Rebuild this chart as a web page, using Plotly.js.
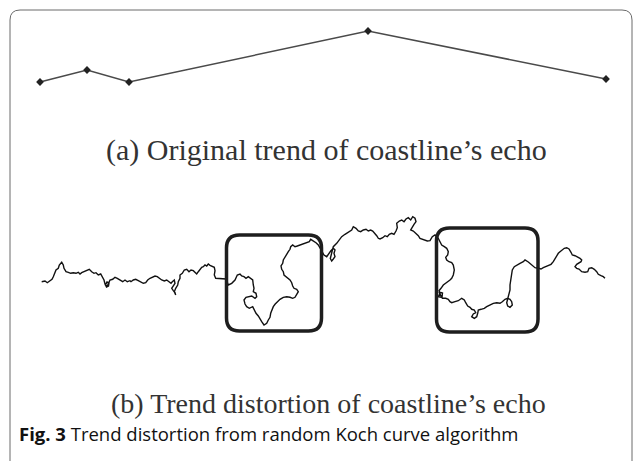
<!DOCTYPE html>
<html>
<head>
<meta charset="utf-8">
<script src="https://cdn.plot.ly/plotly-3.0.1.min.js"></script>
<style>
html,body{margin:0;padding:0;background:#fff;}
#chart{width:633px;height:461px;}
</style>
</head>
<body>
<div id="chart"></div>
<script>
// (a) Original trend of the coastline echo: five vertices
const trendX = [40, 87, 129, 368, 606];
const trendY = [82, 70, 82, 31, 79];

// (b) Distorted trend (random Koch curve)
const kochX = [
41.7,45,47.3,50,52,53.3,55,56,58.3,59.3,61.7,63.3,64,66,68.3,70.7,73.3,76,78.3,80,81.7,84,86.7,89.3,91.7,94,96,98.3,100.7,102.7,104,105,106.5,108.5,109,107,105.5,107.3,108.7,110,112.7,115,117.3,120,122.7,125,127.3,130,
131,133.3,135.7,138.3,140.7,143.3,145.7,147.7,150,152.3,155,157.3,159.3,161.7,164.3,166.7,169,171,172.3,174.3,175,173.3,171.7,173.3,175,175.7,174.3,175.7,177.7,178.3,180,180,182.3,184.3,186.7,189,191,193.3,195,196.7,198.3,200,201.7,203.3,205,206.7,208.3,210,212.3,214.3,215,214.3,215.7,218.3,221,223.3,226,
228.3,231.7,235,237.3,240,241.7,244,246,248.3,250.7,252.7,253.3,254,253.3,256,256.7,255,251.7,248.3,246,244,245,246.7,249.3,252.7,254,256,258.3,260,261.7,264,266.7,268.3,270,270.7,271.7,273.3,275,277.3,280,283.3,286.7,290,292.7,295,296.7,298.3,296.7,294,292.7,291.7,290,288.3,286,284,283.3,281.7,281,282.7,283.3,285,286.7,288.3,290,290.7,292.7,295,297.3,300,302.7,305,307.3,309.3,310.7,313.3,316,318.3,320,321.7,324,326.7,
328.3,330.7,333.3,335,334,335,333.3,331.7,330.3,332,333.3,336.7,339.3,341.7,345,348.3,351.7,353.3,356,358.3,360.7,363.3,366,368.3,370.7,372.7,375,376.7,378.3,380,382.7,385,387.3,389.3,391.7,394,396,397.3,396.7,399.3,401.7,404,406,408.3,410.7,412.7,415,416,414,411.7,410.7,413.3,416,418.3,420,422.7,425,427.3,
430,432.3,435,438.3,440,441.7,444.3,446.7,448.3,447.7,445.7,446.7,449,451.7,453.3,454.3,453.3,451.7,450,447.7,445.7,443.3,441,439,440,438.3,442,442.5,439,442.3,445.7,448.3,450,451.7,455,458.3,461.7,464.3,465.7,467.7,470,471.7,474.3,475.7,473.3,471.7,474.3,476.7,477.7,478.3,481,484.3,486.7,490,493.3,496.7,500,502.3,505,507.7,510,511.7,512.3,510,507.7,506.7,507.7,508.3,510,510,511,511.7,512.3,514.3,516.7,520,523.3,525,528.3,531.7,535,538.3,
541,543.3,545.7,548.3,551,553.3,555,556.7,558.3,560,561.7,564.3,566.7,569,571,572.3,575,577.7,580,581.7,581,576.7,575,576.7,579,581.7,585,587.7,589,591.7,594.3,596.7,598.3,601,603.3,605
];
const kochY = [
281.7,281,282.7,281,279.3,276.7,273.3,270,268.3,265,262.3,265,268.3,271.7,272.3,273.3,272.7,273.3,272.3,274,272.7,271.7,270,269.3,271.7,273.3,272.7,275,274,277.3,280,284,287,286,283,282,285,286,282.7,280,279.3,277.3,278.3,280,281.7,280,281.7,280.7,
281.7,280,279.3,280.7,281.7,283.3,282.7,280,278.3,277.3,276,276.7,278.3,280,281,280,281.7,283.3,281.7,280,283.3,286.7,288.3,290.7,292.7,295,291.7,288.3,285,281.7,278.3,275,273.3,270,269.3,271.7,270,270.7,272.7,274,271.7,269.3,267.3,266.7,265,266,264,265.3,266,267.3,270.7,275,278.3,278.3,278.3,278.7,279,
285,283.3,280,275,274,276,276.7,278.3,276.7,278.3,280,285,288.3,291.7,293.3,296.7,298.3,296,296.7,297.3,300,304,306.7,308.3,306.7,310,313.3,316,318.3,321.7,325,323.3,320,317.3,313.3,310,306.7,304.3,301.7,299.3,297.3,296.7,297.3,298.3,297.3,295,291.7,289.3,288.3,286,282.7,280,278.3,276.7,275,271.7,269.3,266,263.3,260,256.7,254,251.7,249.3,246.7,245,246.7,246,245,244,243.3,242.7,241.7,239.3,240.7,242.7,245,248.3,251.7,255,256.7,
254.3,251,248.3,250,253.3,256.7,259,261,258.5,252,246.7,243.3,240,236.7,234.3,232.3,230,226.7,228.3,231,231.7,230,229.3,231,230,231,233.3,235.7,238.3,239,237.7,235.7,236.7,234.3,233.3,234.3,231,227.7,223.3,221,220,221.7,219,217.7,220,216.7,218.3,221.7,224.3,227.7,230,231,233.3,235.7,238.3,239.3,240,241,
240.7,236.7,235,238.3,241.7,245,246.7,248.3,251.7,255,257.3,260,261.7,262.7,265,270,275,278.3,280,281.7,283.3,285,288.3,290.7,293.3,296.7,297.5,293,292,298.3,298.3,299.3,301.7,302.7,301.7,300.7,298.3,300,302.7,306,307.3,309.3,310,312.7,314,316.7,318.3,316.7,313.3,310,309.3,308.3,306.7,305,303.3,302.7,303.3,301.7,299.3,298.3,299.3,301.7,305,307.3,306,302.7,299.3,295,290,285,280,275,270,266.7,265,263.3,261.7,260,262,265,267.7,268.3,
269,267.7,266.7,265.7,264.3,261.7,258.3,255,253.3,251.7,250,248.3,247.7,249,252.3,255,255.7,256.7,258.3,260,261.7,264.3,266.7,268.3,269,271.7,272.3,271.7,268.3,267.7,269.3,271.7,274.3,275.7,276.7,278.3
];

// highlight boxes around the distorted parts
const boxLeft   = [226.5, 436.5];
const boxRight  = [321.5, 538];
const boxTop    = [235, 228];
const boxBottom = [331, 332];

const labelA = "(a) Original trend of coastline’s echo";
const labelB = "(b) Trend distortion of coastline’s echo";
const captionBold = "Fig. 3";
const captionText = "Trend distortion from random Koch curve algorithm";

function roundRect(x0, y0, x1, y1, r) {
  return `M ${x0 + r} ${y0} L ${x1 - r} ${y0} Q ${x1} ${y0} ${x1} ${y0 + r} ` +
         `L ${x1} ${y1 - r} Q ${x1} ${y1} ${x1 - r} ${y1} L ${x0 + r} ${y1} ` +
         `Q ${x0} ${y1} ${x0} ${y1 - r} L ${x0} ${y0 + r} Q ${x0} ${y0} ${x0 + r} ${y0} Z`;
}

const shapes = [];
// outer panel frame (left and top edges with rounded corners)
shapes.push({
  type: 'path', xref: 'x', yref: 'y',
  path: 'M 10 470 L 10 20 Q 10 10 20 10 L 622 10 Q 632 10 632 20 L 632 470',
  line: {color: '#6a6a6a', width: 1}
});
for (let i = 0; i < boxLeft.length; i++) {
  shapes.push({
    type: 'path', xref: 'x', yref: 'y',
    path: roundRect(boxLeft[i], boxTop[i], boxRight[i], boxBottom[i], 13),
    line: {color: '#1e1e1e', width: 3.5}
  });
}

const traces = [
  {
    x: trendX, y: trendY, type: 'scatter', mode: 'lines+markers',
    line: {color: '#4a4a4a', width: 1.5},
    marker: {symbol: 'diamond', size: 6, color: '#222'},
    hoverinfo: 'skip'
  },
  {
    x: kochX, y: kochY, type: 'scatter', mode: 'lines',
    line: {color: '#111', width: 1.4},
    hoverinfo: 'skip'
  }
];

const serif = '"Liberation Serif", "Times New Roman", serif';
const layout = {
  width: 633, height: 461,
  margin: {l: 0, r: 0, t: 0, b: 0},
  paper_bgcolor: '#fff', plot_bgcolor: '#fff',
  showlegend: false,
  xaxis: {range: [0, 633], visible: false, fixedrange: true},
  yaxis: {range: [461, 0], visible: false, fixedrange: true},
  shapes: shapes,
  annotations: [
    {x: 326, y: 150, xref: 'x', yref: 'y', text: labelA, showarrow: false,
     xanchor: 'center', yanchor: 'middle', font: {family: serif, size: 30, color: '#333'}},
    {x: 328, y: 403, xref: 'x', yref: 'y', text: labelB, showarrow: false,
     xanchor: 'center', yanchor: 'middle', font: {family: serif, size: 28, color: '#333'}},
    {x: 17, y: 433, xref: 'x', yref: 'y', text: '<b>' + captionBold + '</b> ' + captionText, showarrow: false,
     xanchor: 'left', yanchor: 'middle', font: {family: '"Open Sans", "Noto Sans", sans-serif', size: 18.5, color: '#111'}}
  ]
};

Plotly.newPlot('chart', traces, layout, {staticPlot: true, displayModeBar: false});
</script>
</body>
</html>
